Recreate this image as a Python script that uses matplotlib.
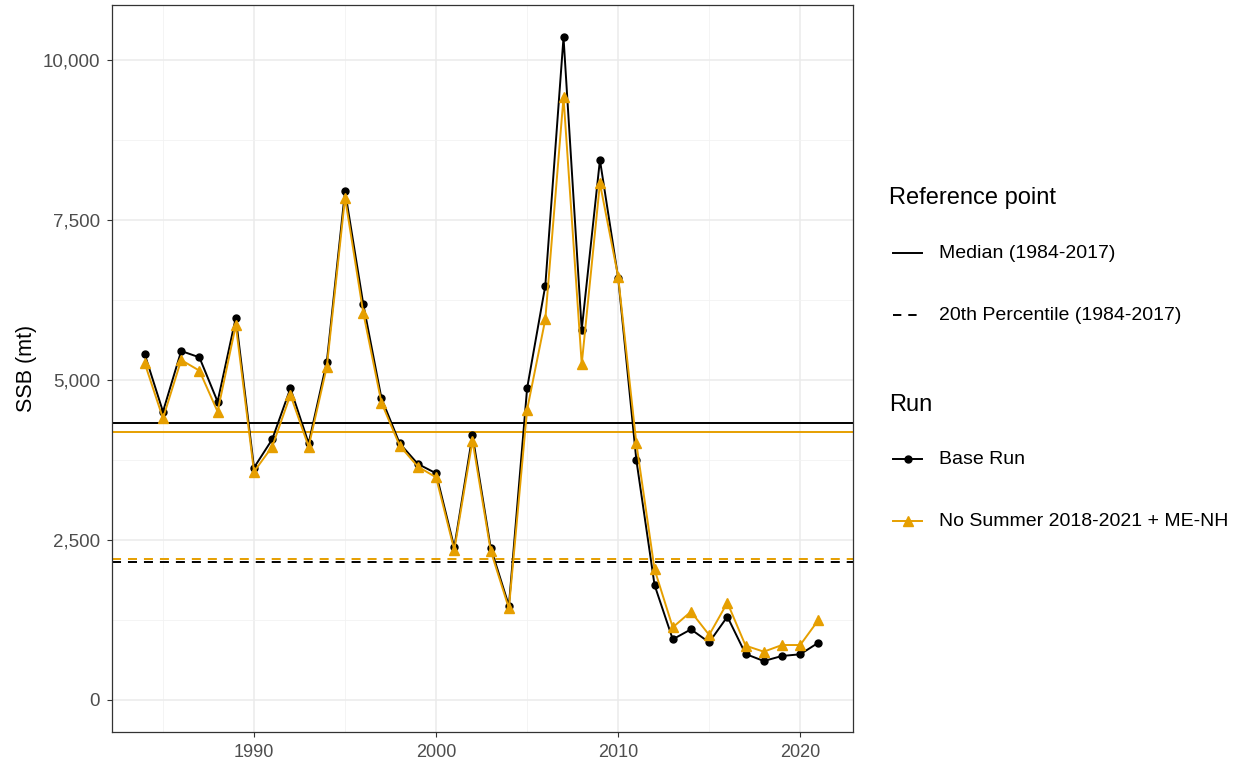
import matplotlib
matplotlib.use("Agg")
import matplotlib.pyplot as plt
from matplotlib.lines import Line2D
from matplotlib.ticker import FuncFormatter, MultipleLocator

plt.rcParams["font.family"] = ["Liberation Sans", "DejaVu Sans"]
plt.rcParams["lines.scale_dashes"] = False

years = list(range(1984, 2022))

base_run = [5400, 4505, 5453, 5354, 4661, 5974, 3630, 4073, 4870, 4010,
            5286, 7953, 6187, 4714, 4010, 3688, 3542, 2385, 4141, 2380,
            1474, 4870, 6474, 10354, 5786, 8438, 6600, 3750, 1797, 948,
            1104, 901, 1302, 719, 609, 688, 714, 896]

no_summer = [5260, 4401, 5312, 5146, 4505, 5859, 3568, 3958, 4766, 3958,
             5208, 7849, 6052, 4646, 3974, 3646, 3479, 2344, 4052, 2333,
             1432, 4536, 5948, 9417, 5250, 8073, 6615, 4010, 2042, 1135,
             1380, 1016, 1521, 849, 755, 859, 859, 1250]

median_ref = {"Base Run": 4323, "No Summer 2018-2021 + ME-NH": 4193}
pct20_ref = {"Base Run": 2151, "No Summer 2018-2021 + ME-NH": 2203}

run_colors = {"Base Run": "#000000", "No Summer 2018-2021 + ME-NH": "#E69F00"}
run_markers = {"Base Run": "o", "No Summer 2018-2021 + ME-NH": "^"}
run_msize = {"Base Run": 5, "No Summer 2018-2021 + ME-NH": 7}
series = {"Base Run": base_run, "No Summer 2018-2021 + ME-NH": no_summer}

W, H = 1239, 767
fig = plt.figure(figsize=(W / 100, H / 100), dpi=100)
ax = fig.add_axes([112 / W, 1 - 732 / H, (853 - 112) / W, (732 - 5) / H])

dash = (0, (6.5, 5.0))
for run in series:
    ax.axhline(median_ref[run], color=run_colors[run], lw=1.4, zorder=2)
    ax.axhline(pct20_ref[run], color=run_colors[run], lw=1.4, ls=dash, zorder=2)

for run, vals in series.items():
    ax.plot(years, vals, color=run_colors[run], lw=1.4, marker=run_markers[run],
            ms=run_msize[run], zorder=3)

ax.set_xlim(1982.2, 2022.9)
ax.set_ylim(-500, 10859)
ax.xaxis.set_major_locator(MultipleLocator(10))
ax.xaxis.set_minor_locator(MultipleLocator(5))
ax.yaxis.set_major_locator(MultipleLocator(2500))
ax.yaxis.set_minor_locator(MultipleLocator(1250))
ax.yaxis.set_major_formatter(FuncFormatter(lambda v, p: f"{int(v):,}"))

ax.grid(which="major", color="#EBEBEB", lw=1.1, zorder=0)
ax.grid(which="minor", color="#F2F2F2", lw=0.6, zorder=0)
ax.set_axisbelow(True)
ax.tick_params(which="minor", length=0)
ax.tick_params(which="major", length=3.5, width=0.8, color="#333333",
               labelcolor="#4D4D4D")
ax.tick_params(axis="x", labelsize=13, pad=5)
ax.tick_params(axis="y", labelsize=13.5, pad=5)
for sp in ax.spines.values():
    sp.set_color("#333333")
    sp.set_linewidth(0.9)

ax.set_ylabel("SSB (mt)", fontsize=15.5, color="black", labelpad=4)

# legend drawn in figure coordinates
def fx(px):
    return px / W

def fy(py):
    return 1 - py / H

fig.text(fx(889), fy(198), "Reference point", fontsize=17, va="center", ha="left")
fig.add_artist(Line2D([fx(893), fx(922)], [fy(253)] * 2, color="black", lw=1.4,
                      transform=fig.transFigure))
fig.text(fx(939), fy(253), "Median (1984-2017)", fontsize=14, va="center")
fig.add_artist(Line2D([fx(893), fx(922)], [fy(315)] * 2, color="black", lw=1.4,
                      ls=(0, (6.0, 5.0)), transform=fig.transFigure))
fig.text(fx(939), fy(315), "20th Percentile (1984-2017)", fontsize=14, va="center")

fig.text(fx(889), fy(405), "Run", fontsize=17, va="center", ha="left")
for i, run in enumerate(series):
    yy = fy(459 + 62 * i)
    fig.add_artist(Line2D([fx(893), fx(922)], [yy] * 2, color=run_colors[run], lw=1.4,
                          transform=fig.transFigure))
    fig.add_artist(Line2D([fx(907.5)], [yy], color=run_colors[run],
                          marker=run_markers[run], ms=run_msize[run],
                          transform=fig.transFigure))
    fig.text(fx(939), yy, run, fontsize=14, va="center")

fig.savefig("out.png", dpi=100)
